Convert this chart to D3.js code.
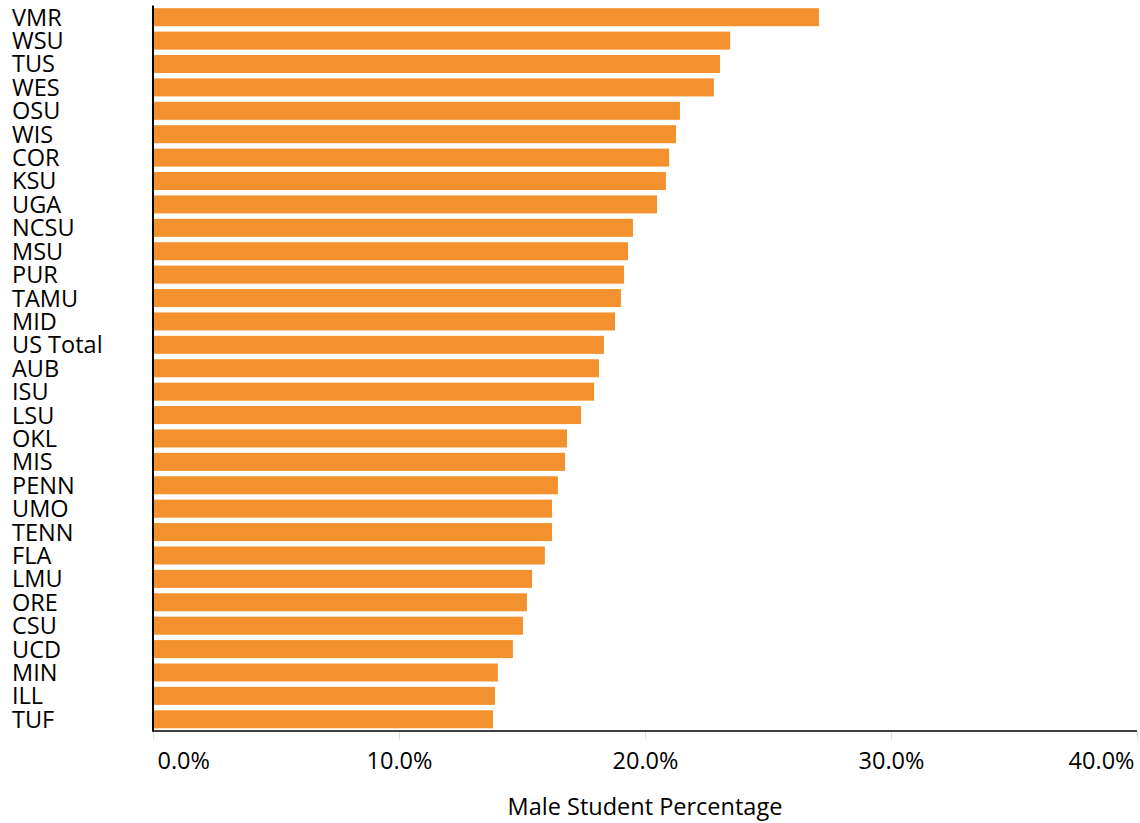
<!DOCTYPE html>
<html>
<head>
<meta charset="utf-8">
<script src="https://cdn.jsdelivr.net/npm/d3@7"></script>
<style>
  html, body { margin: 0; padding: 0; background: #fff; }
  svg { display: block; }
  text { font-family: "Open Sans", "Noto Sans", sans-serif; fill: #000; }
</style>
</head>
<body>
<svg id="chart" width="1140" height="823"></svg>
<script>
const categories = ["VMR","WSU","TUS","WES","OSU","WIS","COR","KSU","UGA","NCSU","MSU","PUR","TAMU","MID","US Total","AUB","ISU","LSU","OKL","MIS","PENN","UMO","TENN","FLA","LMU","ORE","CSU","UCD","MIN","ILL","TUF"];
const values = [27.07,23.46,23.05,22.80,21.42,21.26,20.98,20.85,20.49,19.51,19.31,19.15,19.02,18.78,18.33,18.13,17.93,17.40,16.83,16.75,16.46,16.22,16.22,15.93,15.41,15.20,15.04,14.63,14.02,13.90,13.82];
const xTicks = [0, 10, 20, 30, 40];
const xTitle = "Male Student Percentage";

const svg = d3.select("#chart");
const plotLeft = 153, plotRight = 1137, plotTop = 5.5, plotBottom = 731;

const x = d3.scaleLinear().domain([0, 40]).range([plotLeft, plotRight]);
const y = d3.scaleBand().domain(categories).range([plotTop, plotBottom])
  .paddingInner(0.23).paddingOuter(0.115);

// bars
svg.append("g").selectAll("rect")
  .data(categories.map((c, i) => ({c, v: values[i]})))
  .join("rect")
  .attr("x", x(0))
  .attr("y", d => y(d.c))
  .attr("width", d => x(d.v) - x(0))
  .attr("height", y.bandwidth())
  .attr("fill", "#F3912F");

// category labels
svg.append("g").selectAll("text")
  .data(categories)
  .join("text")
  .attr("x", 12)
  .attr("y", d => y(d) + y.bandwidth() / 2)
  .attr("dy", "0.36em")
  .attr("font-size", 23.5)
  .text(d => d);

// x axis via d3 axis
const xAxis = d3.axisBottom(x).tickValues(xTicks).tickSize(9).tickFormat(d => d.toFixed(1) + "%");
const gx = svg.append("g").attr("transform", `translate(0,${plotBottom})`).call(xAxis);
gx.select(".domain").remove();
gx.selectAll(".tick line").attr("stroke", "#e0e0e0").attr("stroke-width", 1);
gx.selectAll(".tick text")
  .attr("font-family", "'Open Sans', 'Noto Sans', sans-serif")
  .attr("font-size", 23.5)
  .attr("fill", "#000")
  .attr("y", 0)
  .attr("dy", 0)
  .attr("transform", "translate(0,38)")
  .attr("text-anchor", (d, i) => i === 0 ? "start" : (i === xTicks.length - 1 ? "end" : "middle"))
  .attr("dx", (d, i) => i === 0 ? 4 : (i === xTicks.length - 1 ? -3 : 0));

// axis lines
svg.append("line").attr("x1", plotLeft).attr("x2", plotRight).attr("y1", plotBottom).attr("y2", plotBottom)
  .attr("stroke", "#000").attr("stroke-width", 1.6);
svg.append("line").attr("x1", plotLeft).attr("x2", plotLeft).attr("y1", plotTop).attr("y2", plotBottom + 0.8)
  .attr("stroke", "#000").attr("stroke-width", 2);

// axis title
svg.append("text")
  .attr("x", (plotLeft + plotRight) / 2)
  .attr("y", 815)
  .attr("text-anchor", "middle")
  .attr("font-size", 23.5)
  .text(xTitle);
</script>
</body>
</html>
